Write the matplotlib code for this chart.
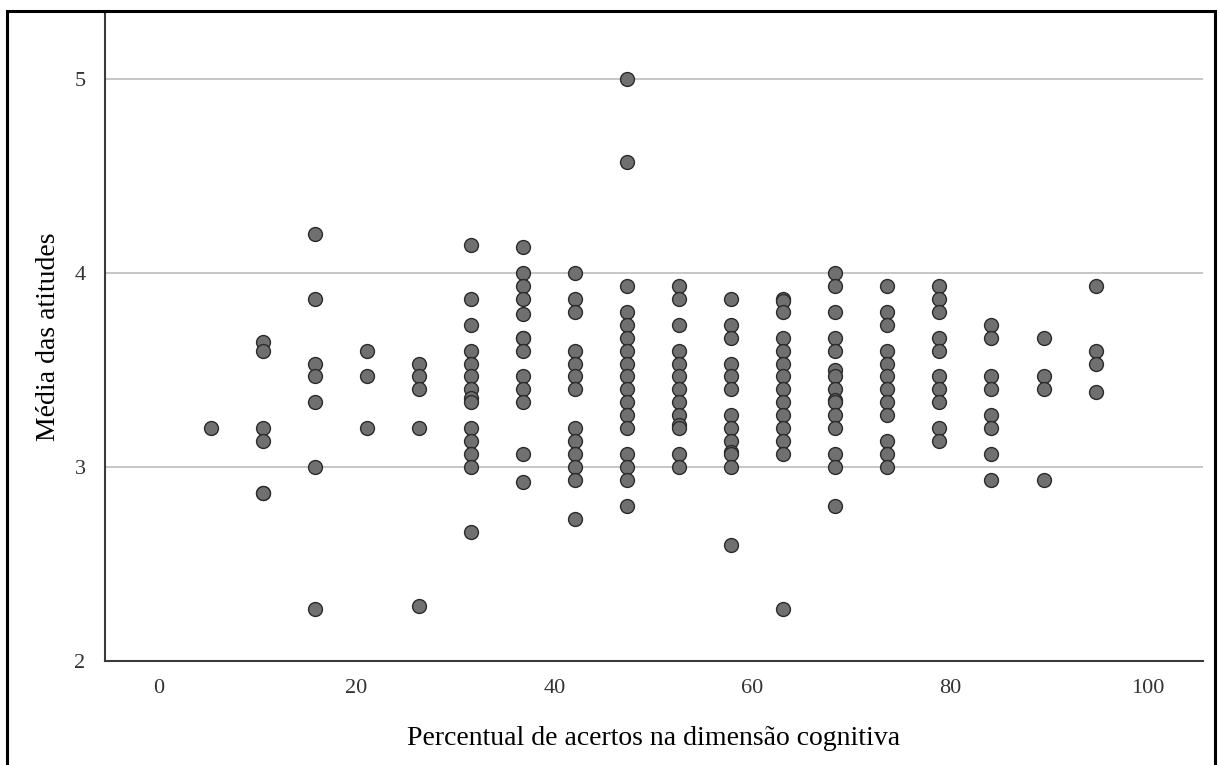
import matplotlib.pyplot as plt
from matplotlib.patches import Rectangle

plt.rcParams['font.family'] = ['Liberation Serif', 'DejaVu Serif']

# percent of correct answers (k of 19 items) and attitude means per column
pct = [100 * k / 19 for k in range(1, 19)]
att = [
    [3.2],
    [3.643, 3.6, 3.2, 3.133, 2.867, 2.867],
    [4.2, 3.867, 3.533, 3.467, 3.333, 3.0, 2.267],
    [3.6, 3.467, 3.2],
    [3.533, 3.467, 3.4, 3.2, 2.286],
    [4.143, 3.867, 3.733, 3.6, 3.533, 3.467, 3.4, 3.357, 3.333, 3.2, 3.133,
     3.067, 3.0, 2.667],
    [4.133, 4.0, 3.933, 3.867, 3.786, 3.667, 3.667, 3.6, 3.467, 3.4, 3.333,
     3.067, 2.923],
    [4.0, 3.867, 3.8, 3.6, 3.533, 3.467, 3.4, 3.2, 3.133, 3.067, 3.0, 2.933,
     2.733],
    [5.0, 4.571, 3.933, 3.8, 3.733, 3.667, 3.6, 3.533, 3.467, 3.4, 3.333,
     3.267, 3.2, 3.067, 3.0, 2.933, 2.8],
    [3.933, 3.867, 3.733, 3.6, 3.533, 3.467, 3.4, 3.333, 3.267, 3.214, 3.2,
     3.067, 3.0],
    [3.867, 3.733, 3.667, 3.533, 3.467, 3.4, 3.267, 3.2, 3.133, 3.077, 3.067,
     3.0, 2.6],
    [3.867, 3.857, 3.8, 3.667, 3.6, 3.533, 3.467, 3.4, 3.333, 3.267, 3.2,
     3.133, 3.067, 2.267],
    [4.0, 3.933, 3.8, 3.667, 3.6, 3.5, 3.467, 3.4, 3.346, 3.333, 3.267, 3.2,
     3.067, 3.0, 2.8],
    [3.933, 3.8, 3.733, 3.6, 3.533, 3.467, 3.4, 3.333, 3.267, 3.133, 3.067,
     3.0],
    [3.933, 3.867, 3.8, 3.667, 3.6, 3.467, 3.4, 3.333, 3.2, 3.133],
    [3.733, 3.667, 3.467, 3.4, 3.267, 3.2, 3.067, 2.933],
    [3.667, 3.467, 3.4, 2.933],
    [3.933, 3.6, 3.533, 3.385],
]

xs = []
ys = []
for p, col in zip(pct, att):
    for v in col:
        xs.append(p)
        ys.append(v)

fig = plt.figure(figsize=(12.19, 7.65), dpi=100)
ax = fig.add_axes([105 / 1219, 104 / 765, 1098 / 1219, 648 / 765])

ax.scatter(xs, ys, s=100, facecolor='#707070', edgecolor='#2b2b2b',
           linewidth=1.0, zorder=3)

ax.set_xlim(-5.43, 105.6)
ax.set_ylim(2, 5.34)
ax.set_xticks([0, 20, 40, 60, 80, 100])
ax.set_yticks([2, 3, 4, 5])
for g in [3, 4, 5]:
    ax.axhline(g, color='#bdbdbd', lw=1.2, zorder=1)

for s in ['top', 'right']:
    ax.spines[s].set_visible(False)
for s in ['left', 'bottom']:
    ax.spines[s].set_color('#3a3a3a')
    ax.spines[s].set_linewidth(1.5)

ax.tick_params(length=0, labelsize=16, labelcolor='#333333')
ax.tick_params(axis='x', pad=13)
ax.tick_params(axis='y', pad=14)

ax.set_xlabel('Percentual de acertos na dimensão cognitiva', fontsize=20,
              labelpad=20)
ax.set_ylabel('Média das atitudes', fontsize=20, labelpad=10)

# outer frame
fig.patches.append(Rectangle((7 / 1219, -0.05), 1208 / 1219, 0.05 + 754 / 765,
                             transform=fig.transFigure, fill=False,
                             edgecolor='black', linewidth=2.2))

fig.savefig('out.png', dpi=100)
